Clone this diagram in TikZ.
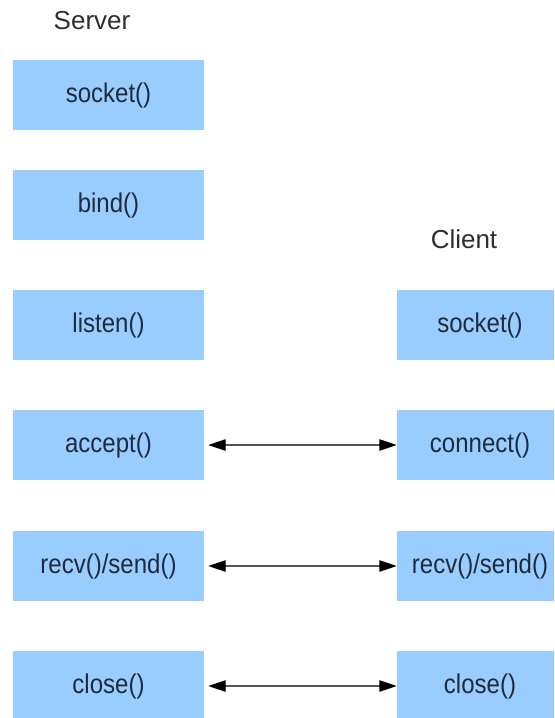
\documentclass[tikz,border=0pt]{standalone}
\usepackage{fontspec}
\setmainfont{Liberation Sans}
\usetikzlibrary{arrows.meta}
\definecolor{boxblue}{HTML}{99CCFF}
\definecolor{boxtext}{HTML}{1E2B3C}
\definecolor{headtext}{HTML}{2E2E2E}
\definecolor{linkgray}{HTML}{555555}
% call labels are set a little taller than wide
\newcommand{\calltext}[1]{\scalebox{1}[1.13]{#1}}
\begin{document}
\begin{tikzpicture}[x=0.75pt,y=-0.75pt,
  callbox/.style={fill=boxblue,draw=none,minimum height=52.5pt,inner sep=0pt,
    text=boxtext,font=\fontsize{18}{20}\selectfont},
  srvbox/.style={callbox,minimum width=143.25pt},
  clibox/.style={callbox,minimum width=124.5pt},
  heading/.style={text=headtext,font=\fontsize{19.5}{22}\selectfont},
  link/.style={draw=linkgray,line width=0.9pt,
    {Triangle[length=13pt,width=8.5pt,black]}-{Triangle[length=13pt,width=8.5pt,black]},
    shorten <=3pt}]
\useasboundingbox (0,0) rectangle (554,718);
\begin{scope}
\clip (0,0) rectangle (554,718);
% server column
\node[heading] (srv) at (92,21) {Server};
\node[srvbox] (ssock) at (108.5,95) {\calltext{socket()}};
\node[srvbox] (sbind) at (108.5,205) {\calltext{bind()}};
\node[srvbox] (slist) at (108.5,325) {\calltext{listen()}};
\node[srvbox] (sacc)  at (108.5,445) {\calltext{accept()}};
\node[srvbox] (srecv) at (108.5,566) {\calltext{recv()/send()}};
\node[srvbox] (sclose) at (108.5,686) {\calltext{close()}};
% client column
\node[heading] (cli) at (464,239) {Client};
\node[clibox] (csock) at (480,325) {\calltext{socket()}};
\node[clibox] (ccon)  at (480,445) {\calltext{connect()}};
\node[clibox] (crecv) at (480,566) {\calltext{recv()/send()}};
\node[clibox] (cclose) at (480,686) {\calltext{close()}};
\end{scope}
% two-way links between matching calls
\draw[link] (sacc.east) -- (ccon.west);
\draw[link] (srecv.east) -- (crecv.west);
\draw[link] (sclose.east) -- (cclose.west);
\end{tikzpicture}
\end{document}
